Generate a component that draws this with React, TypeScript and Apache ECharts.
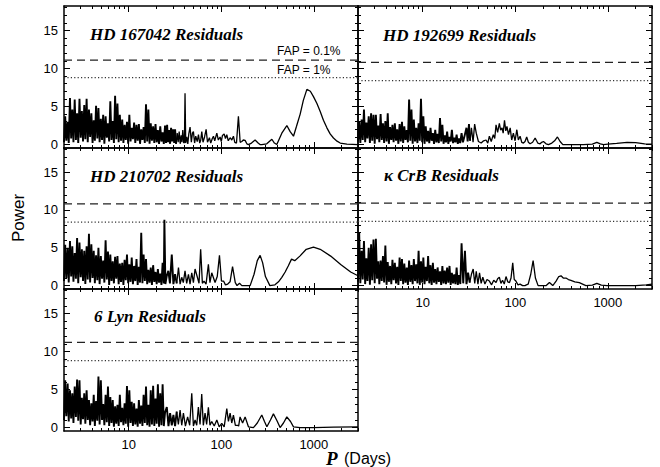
import { useEffect, useRef } from 'react';
import * as echarts from 'echarts';

// Period grid (days) shared by the densely sampled short-period part of every periodogram
const densePeriods = [
  2.0, 2.06, 2.12, 2.19, 2.25, 2.32, 2.39, 2.46, 2.53, 2.61,
  2.69, 2.77, 2.85, 2.94, 3.03, 3.12, 3.21, 3.31, 3.4, 3.51,
  3.61, 3.72, 3.83, 3.95, 4.07, 4.19, 4.31, 4.44, 4.58, 4.71,
  4.85, 5.0, 5.15, 5.3, 5.46, 5.63, 5.8, 5.97, 6.15, 6.33,
  6.52, 6.72, 6.92, 7.13, 7.34, 7.56, 7.79, 8.02, 8.26, 8.51,
  8.77, 9.03, 9.3, 9.58, 9.87, 10.16, 10.47, 10.78, 11.11, 11.44,
  11.78, 12.14, 12.5, 12.88, 13.26, 13.66, 14.07, 14.49, 14.93, 15.38,
  15.84, 16.31, 16.8, 17.3, 17.82, 18.36, 18.91, 19.48, 20.06, 20.66,
  21.28, 21.92, 22.58, 23.25, 23.95,
];

// HD 167042 residual power
const hd167042Dense = [
  0.3, 3.7, 0.5, 3.0, 0.2, 6.1, 0.8, 4.6, 0.3, 5.9,
  0.6, 4.1, 0.2, 6.0, 0.9, 4.4, 0.4, 5.2, 0.7, 6.0,
  0.3, 4.6, 1.0, 4.1, 0.2, 3.2, 0.5, 5.1, 0.8, 4.8,
  0.3, 3.4, 0.6, 3.9, 0.1, 3.7, 0.9, 2.8, 0.4, 5.7,
  0.6, 3.1, 0.2, 6.4, 0.7, 5.4, 0.3, 3.9, 0.5, 3.3,
  0.2, 2.6, 0.6, 3.0, 0.1, 3.9, 0.4, 2.2, 0.7, 2.9,
  0.2, 2.6, 0.5, 2.7, 0.1, 2.0, 0.6, 2.3, 0.2, 5.3,
  0.4, 4.6, 0.1, 2.8, 0.5, 2.4, 0.2, 2.7, 0.3, 1.9,
  0.1, 2.4, 0.4, 1.6, 0.1,
];
const hd167042Tail: [number, number][] = [
  [24.7, 2.5], [25.3, 0.2], [26.0, 2.6], [26.6, 0.3], [27.3, 1.9], [28.0, 0.1], [28.7, 2.2], [29.4, 0.4],
  [30.2, 2.0], [31.0, 0.2], [31.7, 2.0], [32.5, 0.1], [33.4, 1.5], [34.2, 0.3], [35.1, 1.7], [36.0, 0.1],
  [36.9, 1.2], [37.6, 0.3], [38.4, 1.9], [39.3, 0.2], [40.0, 0.3], [40.6, 6.75], [41.3, 0.2], [42.4, 1.0],
  [43.5, 0.1], [44.6, 1.4], [46.0, 2.3], [47.5, 0.3], [48.8, 1.5], [50.0, 1.7], [51.5, 0.2], [53.0, 1.1],
  [55.0, 0.4], [56.7, 1.3], [58.5, 0.2], [60.0, 0.6], [61.6, 1.7], [63.5, 0.3], [66.0, 1.0], [68.6, 2.0],
  [71.0, 0.3], [74.5, 0.9], [77.0, 0.2], [80.0, 0.8], [82.3, 1.1], [85.0, 0.5], [89.5, 1.5], [93.0, 0.6],
  [97.1, 1.0], [100, 0.4], [103, 1.2], [107.4, 1.4], [111, 0.8], [114.7, 1.3], [119, 0.5], [124.6, 0.9],
  [130, 0.6], [135.3, 1.1], [140, 0.3], [146, 0.2], [153.2, 3.7], [160, 0.3], [166.7, 0.4], [173, 0.6],
  [181, 0.55], [189, 0.1], [196.5, 0.0], [212, 0.2], [232, 0.6], [250, 0.2], [262, 0.0], [274, 0.0],
  [310, 0.1], [352, 0.7], [375, 0.2], [398, 0.0], [451, 1.5], [511, 2.5], [555, 1.7], [603, 1.1],
  [650, 2.4], [712, 4.0], [770, 5.8], [841, 7.25], [917, 7.0], [991, 6.3], [1080, 5.4], [1172, 4.35],
  [1270, 3.2], [1384, 2.2], [1500, 1.4], [1630, 0.86], [1780, 0.45], [1927, 0.2], [2275, 0.05], [3000, 0.0],
];

// HD 192699 residual power
const hd192699Dense = [
  0.4, 3.0, 0.2, 3.3, 0.6, 4.6, 0.3, 2.9, 0.8, 3.7,
  0.2, 4.1, 0.5, 3.9, 0.1, 3.9, 0.7, 2.5, 0.3, 4.0,
  0.6, 2.8, 0.2, 3.1, 0.4, 4.1, 0.1, 2.3, 0.6, 2.6,
  0.3, 2.8, 0.5, 2.0, 0.1, 2.7, 0.4, 3.0, 0.2, 2.4,
  0.6, 1.9, 0.3, 5.9, 0.5, 4.6, 0.1, 3.3, 0.4, 2.2,
  0.2, 2.8, 0.5, 6.0, 0.3, 3.7, 0.1, 2.4, 0.4, 1.8,
  0.2, 2.2, 0.5, 1.5, 0.1, 1.95, 0.3, 1.4, 0.2, 3.5,
  0.4, 2.6, 0.1, 1.2, 0.3, 1.7, 0.1, 1.0, 0.4, 1.95,
  0.2, 0.9, 0.3, 1.3, 0.1,
];
const hd192699Tail: [number, number][] = [
  [24.6, 0.8], [25.4, 0.2], [26.3, 1.5], [27.2, 0.3], [28.4, 1.2], [29.7, 2.2], [30.6, 0.4], [31.6, 2.7],
  [32.5, 0.5], [33.6, 2.2], [35.0, 0.3], [36.4, 2.7], [37.9, 1.5], [40.0, 0.4], [42.8, 0.2], [45.5, 0.5],
  [48.3, 0.6], [50.5, 0.2], [52.5, 1.1], [55.0, 0.4], [57.9, 1.3], [60.0, 0.8], [62.0, 2.6], [64.5, 1.6],
  [67.3, 2.8], [69.5, 1.9], [72.0, 2.2], [74.0, 1.5], [76.5, 3.2], [79.0, 1.8], [81.3, 2.4], [84.5, 1.3],
  [88.1, 2.2], [91.5, 0.6], [95.4, 1.5], [99.5, 0.5], [104, 1.95], [108, 0.6], [112.7, 1.1], [117.5, 0.3],
  [122.6, 0.2], [127.5, 0.4], [132.9, 1.0], [138.5, 0.3], [144.6, 0.1], [154, 0.3], [163.9, 0.86], [175, 0.2],
  [185.6, 0.1], [193, 0.3], [201.5, 0.4], [215, 0.1], [228.6, 0.0], [238, 0.1], [248.3, 0.2], [266, 0.5],
  [285.6, 1.0], [305, 0.4], [326.4, 0.0], [545.6, 0.0], [680, 0.05], [760.8, 0.3], [830, 0.1], [897, 0.0],
  [1000, 0.05], [1245, 0.15], [1612, 0.3], [2000, 0.25], [2500, 0.1], [3000, 0.05],
];

// HD 210702 residual power
const hd210702Dense = [
  0.6, 5.4, 1.0, 5.0, 0.4, 5.9, 1.2, 5.2, 0.5, 4.3,
  0.9, 6.3, 0.3, 5.7, 1.1, 4.8, 0.6, 4.6, 0.2, 5.2,
  0.8, 6.85, 0.4, 5.45, 1.0, 4.6, 0.3, 4.0, 0.7, 5.0,
  0.2, 3.9, 0.9, 3.3, 0.4, 6.0, 0.8, 4.5, 0.1, 4.1,
  0.6, 3.2, 0.3, 3.8, 0.9, 3.9, 0.2, 2.9, 0.5, 3.0,
  0.1, 3.4, 0.7, 4.1, 0.3, 2.8, 0.5, 3.7, 0.2, 2.6,
  0.6, 3.5, 0.1, 2.5, 0.4, 7.0, 0.3, 4.1, 0.6, 3.5,
  0.2, 2.1, 0.4, 2.4, 0.1, 2.7, 0.5, 1.8, 0.2, 2.2,
  0.4, 1.6, 0.1, 3.0, 0.3,
];
const hd210702Tail: [number, number][] = [
  [24.3, 8.7], [24.9, 0.2], [25.8, 1.3], [26.8, 1.95], [27.9, 0.3], [29.2, 4.1], [30.4, 0.2], [31.7, 1.5],
  [33.0, 0.3], [34.5, 2.4], [35.9, 0.2], [37.4, 1.1], [38.9, 0.4], [40.6, 1.95], [42.3, 0.3], [44.2, 1.5],
  [46.0, 0.2], [48.0, 1.7], [50.0, 0.4], [52.1, 2.2], [55.2, 1.1], [57.5, 0.3], [59.9, 4.8], [62.5, 0.3],
  [65.1, 0.6], [68.5, 0.2], [72.6, 2.8], [75.5, 0.4], [78.9, 1.7], [85.7, 0.4], [90.5, 1.2], [95.6, 4.0],
  [100.5, 0.6], [105.8, 0.6], [111, 0.1], [117.4, 0.2], [124.5, 0.5], [132.4, 2.5], [141.7, 0.4], [148, 0.0],
  [157.5, 0.3], [166.7, 0.0], [205, 0.0], [226, 1.5], [245, 3.3], [263, 4.0], [280, 3.0], [300, 1.2],
  [335, 0.0], [380, 0.1], [415, 0.5], [451, 1.1], [490, 1.8], [529, 2.6], [574, 3.5], [622, 3.3],
  [706, 3.9], [828, 4.8], [991, 5.1], [1172, 4.8], [1520, 3.9], [1950, 2.8], [2500, 1.8], [3000, 1.3],
];

// kappa CrB residual power
const kapCrbDense = [
  0.5, 7.0, 0.3, 4.6, 0.8, 5.9, 0.2, 3.6, 0.6, 5.0,
  0.1, 5.45, 0.7, 6.1, 0.3, 6.2, 0.9, 3.2, 0.2, 3.3,
  0.6, 3.9, 0.4, 5.3, 0.1, 3.1, 0.5, 2.6, 0.2, 3.4,
  0.7, 3.0, 0.3, 2.5, 0.1, 3.7, 0.6, 3.5, 0.2, 2.9,
  0.4, 2.4, 0.1, 3.3, 0.5, 2.7, 0.2, 3.5, 0.6, 2.8,
  0.3, 4.6, 0.1, 3.2, 0.4, 3.7, 0.2, 2.5, 0.6, 3.9,
  0.3, 2.7, 0.1, 3.0, 0.4, 2.2, 0.2, 2.4, 0.5, 1.9,
  0.1, 2.6, 0.3, 2.0, 0.2, 2.4, 0.4, 2.6, 0.1, 1.7,
  0.3, 1.5, 0.2, 2.4, 0.1,
];
const kapCrbTail: [number, number][] = [
  [24.7, 1.4], [25.5, 0.2], [26.3, 5.6], [27.4, 0.3], [28.6, 4.6], [29.7, 0.2], [30.9, 1.7], [32.2, 0.4],
  [33.6, 1.5], [35.1, 2.2], [36.5, 0.3], [37.9, 1.9], [39.5, 0.2], [41.1, 1.7], [42.8, 0.3], [44.6, 1.1],
  [47.0, 0.2], [49.5, 0.8], [52.5, 0.6], [55.5, 0.1], [58.5, 0.7], [62.0, 0.4], [64.5, 0.9], [67.3, 1.1],
  [70.0, 0.3], [72.9, 0.7], [76.0, 0.2], [79.4, 1.2], [83.0, 0.5], [86.6, 0.4], [90.0, 1.0], [93.9, 3.0],
  [97.5, 0.8], [101.6, 0.6], [107, 0.1], [112.7, 0.2], [120, 0.0], [127.3, 0.0], [132, 0.1], [137.9, 0.2],
  [147, 1.5], [155.9, 3.3], [165, 1.0], [176.4, 0.0], [216, 0.0], [234, 0.4], [254, 0.0], [265, 0.3],
  [276, 0.6], [295, 1.2], [312, 1.3], [330, 1.0], [353, 1.0], [375, 0.8], [399, 0.7], [440, 0.5],
  [492, 0.4], [579, 0.0], [680, 0.05], [761, 0.3], [850, 0.05], [980, 0.0], [2000, 0.0], [2600, 0.1],
  [3000, 0.2],
];

// 6 Lyn residual power
const lyn6Dense = [
  1.0, 6.2, 1.5, 5.8, 0.8, 4.9, 1.2, 4.5, 0.6, 5.4,
  1.4, 6.3, 0.9, 6.2, 0.4, 3.9, 1.1, 4.5, 0.5, 4.9,
  1.0, 3.6, 0.3, 3.2, 0.8, 4.3, 0.2, 3.5, 0.9, 6.7,
  0.4, 6.2, 1.0, 3.1, 0.3, 4.3, 0.7, 5.4, 0.2, 4.0,
  0.6, 3.6, 0.1, 2.8, 0.5, 3.0, 0.2, 4.3, 0.7, 2.6,
  0.3, 3.2, 0.5, 5.45, 0.1, 4.9, 0.6, 3.4, 0.2, 3.2,
  0.4, 2.5, 0.1, 3.6, 0.5, 2.9, 0.2, 4.3, 0.6, 5.4,
  0.3, 3.0, 0.1, 4.9, 0.4, 5.5, 0.2, 3.8, 0.5, 5.7,
  0.1, 4.5, 0.3, 5.7, 0.2,
];
const lyn6Tail: [number, number][] = [
  [24.7, 2.0], [25.8, 2.7], [26.9, 0.2], [28.0, 1.9], [29.2, 0.3], [30.4, 1.65], [31.7, 0.2], [33.0, 2.1],
  [34.4, 0.4], [35.9, 2.3], [37.4, 0.3], [39.0, 1.9], [41.0, 0.2], [43.3, 1.4], [45.6, 0.3], [48.0, 4.5],
  [50.0, 0.2], [52.1, 1.0], [54.3, 0.3], [56.6, 2.7], [59.0, 0.4], [61.5, 4.4], [64.0, 0.3], [66.8, 1.9],
  [69.5, 0.4], [72.6, 2.65], [75.5, 0.3], [78.9, 0.8], [84, 0.2], [89.5, 1.0], [95, 0.1], [101.2, 0.55],
  [107.5, 0.1], [114.7, 2.5], [119.5, 0.8], [124.6, 1.9], [129.8, 0.6], [135.3, 1.65], [142, 0.3], [149.4, 0.3],
  [154, 0.2], [159.6, 1.4], [170, 0.6], [181, 1.4], [196.5, 0.1], [222.6, 0.0], [245, 0.6], [274, 1.65],
  [293, 0.8], [311, 0.1], [340, 1.0], [366, 1.8], [400, 0.9], [432, 0.0], [470, 0.6], [511, 1.4],
  [560, 0.8], [603, 0.1], [712, 0.0], [991, 0.0], [1630, 0.05], [3000, 0.1],
];

const panelNames = [
  'HD 167042 Residuals',
  'HD 192699 Residuals',
  'HD 210702 Residuals',
  'κ CrB Residuals',
  '6 Lyn Residuals',
];
const denseSets = [hd167042Dense, hd192699Dense, hd210702Dense, kapCrbDense, lyn6Dense];
const tailSets = [hd167042Tail, hd192699Tail, hd210702Tail, kapCrbTail, lyn6Tail];

// False-alarm-probability power levels for each star
const fap01Levels = [11.1, 10.8, 10.8, 10.9, 11.2];
const fap1Levels = [8.8, 8.4, 8.4, 8.5, 8.8];

const xMajorTicks = [10, 100, 1000];
const xMinorTicks = [
  3, 4, 5, 6, 7, 8, 9, 20, 30, 40, 50, 60, 70, 80, 90,
  200, 300, 400, 500, 600, 700, 800, 900, 2000, 3000,
];
const yMajorTicks = [0, 5, 10, 15];
const yMinorTicks = [1, 2, 3, 4, 6, 7, 8, 9, 11, 12, 13, 14, 16, 17, 18];

const P_MIN = 2;
const P_MAX = 3000;
const POW_MIN = -0.45;
const POW_MAX = 18.2;
// Below this period the peaks are packed into a near-solid forest
const FOREST_LIMIT = 33;

// Panel placement (px) and which axes carry tick labels
const layout = [
  { left: 64, top: 6, height: 142, xLabels: false, yLabels: true, tx: 90, ty: 34 },
  { left: 358, top: 6, height: 142, xLabels: false, yLabels: false, tx: 383, ty: 35 },
  { left: 64, top: 148, height: 141, xLabels: false, yLabels: true, tx: 90, ty: 176 },
  { left: 358, top: 148, height: 141, xLabels: true, yLabels: false, tx: 384, ty: 175 },
  { left: 64, top: 289, height: 142, xLabels: true, yLabels: true, tx: 94, ty: 316 },
];
const PANEL_W = 294;

const SANS = '"Liberation Sans", Arial, sans-serif';
const SERIF = '"Liberation Serif", "Times New Roman", serif';

function buildOption() {
  const grids: any[] = [];
  const xAxes: any[] = [];
  const yAxes: any[] = [];
  const series: any[] = [];
  const graphics: any[] = [];

  const lineStyle = { color: '#000', width: 1.5 };
  const tickStyle = { color: '#000', width: 1 };

  layout.forEach((pn, i) => {
    grids.push({
      left: pn.left,
      top: pn.top,
      width: PANEL_W,
      height: pn.height,
      show: false,
      outerBoundsMode: 'none',
    });

    const xBase = {
      type: 'log',
      logBase: 10,
      min: P_MIN,
      max: P_MAX,
      gridIndex: i,
      splitLine: { show: false },
      splitArea: { show: false },
      minorTick: { show: false },
    };
    (['bottom', 'top'] as const).forEach((pos) => {
      xAxes.push({
        ...xBase,
        position: pos,
        axisLine: { show: true, onZero: false, lineStyle },
        axisTick: { show: true, inside: true, length: 6, customValues: xMajorTicks, lineStyle: tickStyle },
        axisLabel: {
          show: pos === 'bottom' && pn.xLabels,
          customValues: xMajorTicks,
          formatter: (v: number) => String(Math.round(v)),
          color: '#000',
          fontFamily: SANS,
          fontSize: 13,
          margin: 7,
        },
      });
      xAxes.push({
        ...xBase,
        position: pos,
        axisLine: { show: false, onZero: false },
        axisTick: { show: true, inside: true, length: 3, customValues: xMinorTicks, lineStyle: tickStyle },
        axisLabel: { show: false },
      });
    });

    const yBase = {
      type: 'value',
      min: POW_MIN,
      max: POW_MAX,
      gridIndex: i,
      splitLine: { show: false },
      splitArea: { show: false },
    };
    (['left', 'right'] as const).forEach((pos) => {
      yAxes.push({
        ...yBase,
        position: pos,
        axisLine: { show: true, onZero: false, lineStyle },
        axisTick: { show: true, inside: true, length: 6, customValues: yMajorTicks, lineStyle: tickStyle },
        axisLabel: {
          show: pos === 'left' && pn.yLabels,
          customValues: yMajorTicks,
          color: '#000',
          fontFamily: SANS,
          fontSize: 13,
          margin: 6,
        },
      });
      yAxes.push({
        ...yBase,
        position: pos,
        axisLine: { show: false, onZero: false },
        axisTick: { show: true, inside: true, length: 3, customValues: yMinorTicks, lineStyle: tickStyle },
        axisLabel: { show: false },
      });
    });

    const xi = i * 4;
    const yi = i * 4;
    const curve = densePeriods
      .map((p, k) => [p, denseSets[i][k]] as [number, number])
      .concat(tailSets[i]);
    const cut = curve.findIndex((pt) => pt[0] > FOREST_LIMIT);
    const forest = curve.slice(0, cut);
    const rest = curve.slice(cut - 1);

    // Short-period forest: closely packed peaks, drawn with a heavier stroke
    series.push({
      type: 'line',
      name: panelNames[i],
      xAxisIndex: xi,
      yAxisIndex: yi,
      data: forest,
      showSymbol: false,
      symbol: 'none',
      lineStyle: { color: '#000', width: 1.9, join: 'miter' },
      z: 3,
    });
    // Longer periods: resolved peaks and the smooth long-period continuation
    series.push({
      type: 'line',
      name: panelNames[i],
      xAxisIndex: xi,
      yAxisIndex: yi,
      data: rest,
      showSymbol: false,
      symbol: 'none',
      lineStyle: { color: '#000', width: 1.3 },
      z: 3,
    });
    series.push({
      type: 'line',
      xAxisIndex: xi,
      yAxisIndex: yi,
      data: [[P_MIN, fap01Levels[i]], [P_MAX, fap01Levels[i]]],
      showSymbol: false,
      symbol: 'none',
      lineStyle: { color: '#222', width: 1.3, type: [8, 5] },
      z: 2,
    });
    series.push({
      type: 'line',
      xAxisIndex: xi,
      yAxisIndex: yi,
      data: [[P_MIN, fap1Levels[i]], [P_MAX, fap1Levels[i]]],
      showSymbol: false,
      symbol: 'none',
      lineStyle: { color: '#333', width: 1.2, type: [1.2, 2.2] },
      z: 2,
    });

    graphics.push({
      type: 'text',
      x: pn.tx,
      y: pn.ty,
      z: 10,
      style: {
        text: panelNames[i],
        fontFamily: SERIF,
        fontStyle: 'italic',
        fontWeight: 'bold',
        fontSize: 17,
        fill: '#000',
        verticalAlign: 'middle',
      },
    });
  });

  graphics.push(
    {
      type: 'text',
      x: 277,
      y: 51,
      z: 10,
      style: { text: 'FAP = 0.1%', fontFamily: SANS, fontSize: 12, fill: '#000', verticalAlign: 'middle' },
    },
    {
      type: 'text',
      x: 277,
      y: 70,
      z: 10,
      style: { text: 'FAP = 1%', fontFamily: SANS, fontSize: 12, fill: '#000', verticalAlign: 'middle' },
    },
    {
      type: 'text',
      x: 18,
      y: 218,
      rotation: Math.PI / 2,
      z: 10,
      style: {
        text: 'Power',
        fontFamily: SANS,
        fontSize: 17,
        fill: '#000',
        align: 'center',
        verticalAlign: 'middle',
      },
    },
    {
      type: 'text',
      x: 326,
      y: 458,
      z: 10,
      style: {
        text: 'P',
        fontFamily: SERIF,
        fontStyle: 'italic',
        fontWeight: 'bold',
        fontSize: 19,
        lineHeight: 14,
        fill: '#000',
        verticalAlign: 'middle',
      },
    },
    {
      type: 'text',
      x: 344,
      y: 458,
      z: 10,
      style: { text: '(Days)', fontFamily: SANS, fontSize: 16, lineHeight: 16, fill: '#000', verticalAlign: 'middle' },
    }
  );

  return {
    animation: false,
    backgroundColor: '#fff',
    grid: grids,
    xAxis: xAxes,
    yAxis: yAxes,
    series,
    graphic: graphics,
    tooltip: { show: false },
  };
}

export default function App() {
  const ref = useRef<HTMLDivElement>(null);

  useEffect(() => {
    document.body.style.margin = '0';
    if (!ref.current) return;
    const chart = echarts.init(ref.current, undefined, { renderer: 'svg' });
    chart.setOption(buildOption() as any);
    return () => {
      chart.dispose();
    };
  }, []);

  return <div ref={ref} style={{ width: 660, height: 467, background: '#fff' }} />;
}
